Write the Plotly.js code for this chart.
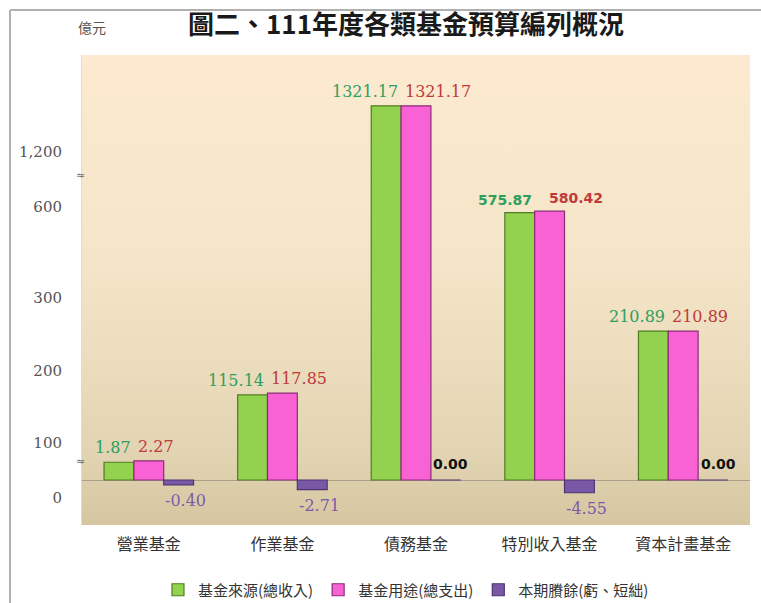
<!DOCTYPE html>
<html>
<head>
<meta charset="utf-8">
<script src="https://cdn.plot.ly/plotly-3.0.1.min.js"></script>
<style>html,body{margin:0;padding:0;background:#fff;}#chart{width:761px;height:603px;}</style>
</head>
<body>
<div id="chart"></div>
<script>
// ---- data ----
const categories = ['營業基金', '作業基金', '債務基金', '特別收入基金', '資本計畫基金'];
const seriesNames = ['基金來源(總收入)', '基金用途(總支出)', '本期賸餘(虧、短絀)'];
const revenue = [1.87, 115.14, 1321.17, 575.87, 210.89];
const expense = [2.27, 117.85, 1321.17, 580.42, 210.89];
const surplus = [-0.40, -2.71, 0.00, -4.55, 0.00];
const tickLabels = ['0', '100', '200', '300', '600', '1,200'];

// ---- broken (non-linear) value axis used by the original chart ----
const BREAK_IN  = [-5, -0.5, 0, 2, 100, 220, 600, 1400];
const BREAK_OUT = [-13.5, -6, 0, 19, 75, 155, 275, 385];
function brk(v) {
  for (let i = 0; i < BREAK_IN.length - 1; i++) {
    if (v <= BREAK_IN[i + 1] || i === BREAK_IN.length - 2) {
      const t = (v - BREAK_IN[i]) / (BREAK_IN[i + 1] - BREAK_IN[i]);
      return BREAK_OUT[i] + t * (BREAK_OUT[i + 1] - BREAK_OUT[i]);
    }
  }
}
// where the original chart printed its axis labels (axis units)
const TICK_AT = [-18, 37, 109, 182, 273, 328];

const BARGAP = 0.33;
const W = (1 - BARGAP) / 3;
const xs = categories.map((c, i) => i);

const colors = ['#92d24f', '#f862d4', '#7a58a8'];
const edges = ['#4e7d20', '#8c2c78', '#4b3570'];
const labelColors = ['#2f9e5f', '#c0393b', '#7b5ca8'];
const vals = [revenue, expense, surplus];

const traces = vals.map((arr, k) => ({
  type: 'bar',
  name: seriesNames[k],
  x: xs,
  y: arr.map(brk),
  customdata: arr,
  marker: {color: colors[k], line: {color: edges[k], width: 1.2}},
  hoverinfo: 'skip'
}));

const serif = 'DejaVu Serif, serif';
const sansB = 'DejaVu Sans, sans-serif';
const PW = 668, PH = 470, PL = 82, PB = 525;
const annotations = [];
categories.forEach((c, i) => {
  const boundary = i - W / 2;
  const bold1 = revenue[i] > 500 && revenue[i] < 1000;
  annotations.push({
    x: boundary, y: brk(revenue[i]), xref: 'x', yref: 'y',
    text: bold1 ? '<b>' + revenue[i].toFixed(2) + '</b>' : revenue[i].toFixed(2),
    showarrow: false, xanchor: 'right', yanchor: 'bottom', xshift: -1, yshift: 3,
    font: {family: bold1 ? sansB : serif, size: bold1 ? 14 : 16, color: labelColors[0]}
  });
  annotations.push({
    x: boundary, y: brk(expense[i]), xref: 'x', yref: 'y',
    text: bold1 ? '<b>' + expense[i].toFixed(2) + '</b>' : expense[i].toFixed(2),
    showarrow: false, xanchor: 'left', yanchor: 'bottom', xshift: bold1 ? 12 : 2, yshift: 3,
    font: {family: bold1 ? sansB : serif, size: bold1 ? 14 : 16, color: labelColors[1]}
  });
  const s = surplus[i];
  if (s === 0) {
    annotations.push({
      x: i + W, y: 0, xref: 'x', yref: 'y',
      text: '<b>' + s.toFixed(2) + '</b>', showarrow: false,
      xanchor: 'center', yanchor: 'bottom', xshift: 5, yshift: 6,
      font: {family: sansB, size: 14, color: '#111'}
    });
  } else {
    annotations.push({
      x: i + W, y: brk(s), xref: 'x', yref: 'y',
      text: s.toFixed(2), showarrow: false,
      xanchor: 'center', yanchor: 'top', xshift: 7, yshift: -4,
      font: {family: serif, size: 16, color: labelColors[2]}
    });
  }
});
// unit label
annotations.push({
  x: (92 - PL) / PW, y: (PB - 27) / PH, xref: 'paper', yref: 'paper', text: '億元', showarrow: false,
  xanchor: 'center', yanchor: 'middle',
  font: {family: 'Noto Sans CJK TC', size: 14, color: '#555'}
});
// axis break markers
[175, 461].forEach(py => annotations.push({
  x: -0.002, y: (PB - py) / PH, xref: 'paper', yref: 'paper', text: '≈', showarrow: false,
  xanchor: 'center', yanchor: 'middle', font: {family: serif, size: 11, color: '#666'}
}));

const grad = 'data:image/svg+xml;utf8,' + encodeURIComponent(
  '<svg xmlns="http://www.w3.org/2000/svg" width="100" height="100" preserveAspectRatio="none">' +
  '<defs><linearGradient id="g" x1="0" y1="0" x2="0" y2="1">' +
  '<stop offset="0" stop-color="#fdead0"/><stop offset="0.45" stop-color="#f4e5c8"/>' +
  '<stop offset="0.85" stop-color="#e2d4b2"/><stop offset="1" stop-color="#d6c6a1"/>' +
  '</linearGradient></defs><rect width="100" height="100" fill="url(#g)"/></svg>');

const layout = {
  width: 761, height: 603,
  margin: {l: 82, r: 11, t: 55, b: 78, autoexpand: false},
  paper_bgcolor: '#ffffff',
  plot_bgcolor: 'rgba(0,0,0,0)',
  barmode: 'group', bargap: BARGAP, bargroupgap: 0,
  title: {
    text: '<b>圖二、111年度各類基金預算編列概況</b>',
    x: 406 / 761, xanchor: 'center', y: 1 - 25 / 603, yanchor: 'middle',
    font: {family: 'Noto Sans CJK TC', size: 26, color: '#1a1a1a'}
  },
  xaxis: {
    range: [-0.5, 4.5], tickvals: xs, ticktext: categories,
    showgrid: false, zeroline: false, showline: false, ticks: '',
    ticklabelstandoff: 8, automargin: false,
    tickfont: {family: 'Noto Sans CJK TC', size: 16, color: '#333'}
  },
  yaxis: {
    range: [-45, 425], tickvals: TICK_AT, ticktext: tickLabels,
    showgrid: false, zeroline: true, zerolinecolor: '#aaa08a', zerolinewidth: 1,
    showline: true, linecolor: '#e4dccb', linewidth: 1, ticks: '',
    ticklabelstandoff: 16, automargin: false,
    tickfont: {family: serif, size: 15, color: '#555'}
  },
  showlegend: true,
  legend: {
    orientation: 'h', x: 0.485, xanchor: 'center', y: (PB - 590) / PH, yanchor: 'middle',
    font: {family: 'Noto Sans CJK TC', size: 15, color: '#333'},
    itemwidth: 30, tracegroupgap: 0, bgcolor: 'rgba(0,0,0,0)'
  },
  images: [{
    source: grad, xref: 'paper', yref: 'paper', x: 0, y: 1, sizex: 1, sizey: 1,
    xanchor: 'left', yanchor: 'top', sizing: 'stretch', layer: 'below'
  }],
  shapes: [
    {type: 'line', xref: 'paper', yref: 'paper', x0: (10 - PL) / PW, x1: (761 - PL) / PW,
     y0: (PB - 10) / PH, y1: (PB - 10) / PH, line: {color: '#b0b0b0', width: 2}},
    {type: 'line', xref: 'paper', yref: 'paper', x0: (10 - PL) / PW, x1: (10 - PL) / PW,
     y0: (PB - 10) / PH, y1: (PB - 603) / PH, line: {color: '#b0b0b0', width: 2}}
  ],
  annotations: annotations
};

Plotly.newPlot('chart', traces, layout, {displayModeBar: false, staticPlot: true});
</script>
</body>
</html>
